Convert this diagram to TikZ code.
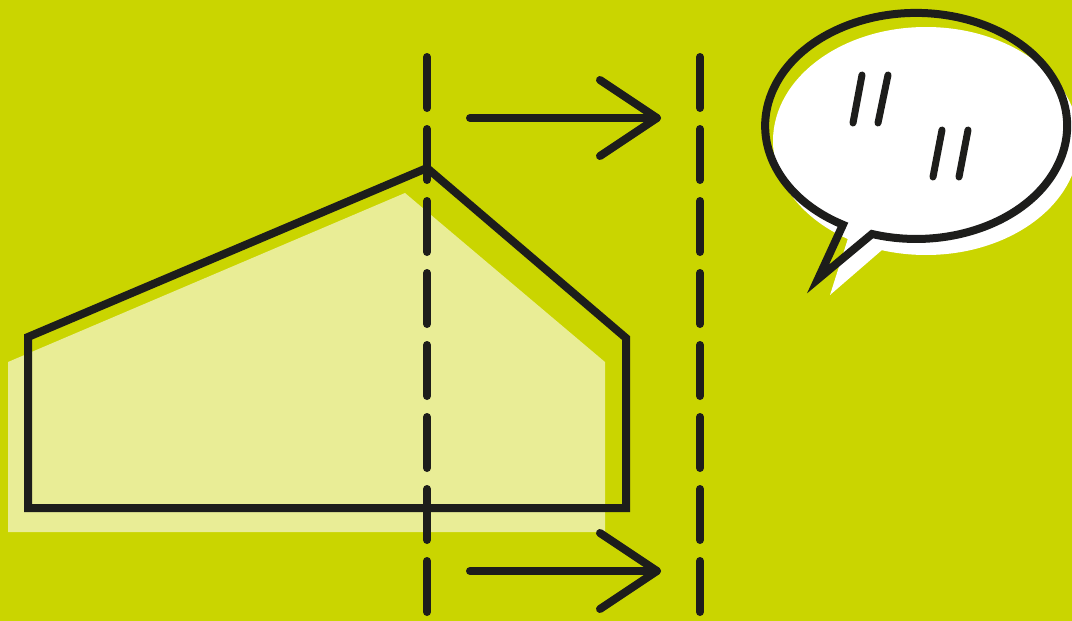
\documentclass[tikz,border=0pt]{standalone}
\usetikzlibrary{positioning,calc}
\definecolor{limeBg}{HTML}{CAD500}
\definecolor{paleLime}{HTML}{E9ED96}
\definecolor{inkBlack}{HTML}{1D1D1B}
\tikzset{
    inkline/.style={draw=inkBlack,line width=8pt,line cap=round,line join=round},
    outline/.style={draw=inkBlack,line width=8pt,line join=miter},
    cutline/.style={draw=inkBlack,line width=8pt,line cap=round,dash pattern=on 51pt off 21pt},
    quotemark/.style={draw=inkBlack,line width=7pt,line cap=round},
    shadow/.style={fill=white,draw=none}
}
\begin{document}
\begin{tikzpicture}[x=1pt,y=-1pt]
            % background
            \fill[limeBg] (0,0) rectangle (1072,621);
            \useasboundingbox (0,0) rectangle (1072,621);
            % house, pale fill and outline
            \fill[paleLime] (8,362) -- (405,193) -- (605,362) -- (605,532) -- (8,532) -- cycle;
            \draw[outline] (28,337) -- (427,168) -- (626,338) -- (626,508) -- (28,508) -- cycle;
            % cutting lines
            \coordinate (cutAtop) at (427,57);
            \coordinate (cutAbot) at (427,640);
            \coordinate (cutBtop) at (700,57);
            \coordinate (cutBbot) at (700,640);
            \draw[cutline] (cutAtop) -- (cutAbot);
            \draw[cutline] (cutBtop) -- (cutBbot);
            % arrows
            \coordinate (upTail) at (470,118);
            \coordinate (upTip) at (657,118);
            \coordinate (lowTail) at (470,571);
            \coordinate (lowTip) at (657,571);
            \draw[inkline] (upTail) -- (upTip);
            \draw[inkline] ($(upTip)+(-57,-38)$) -- (upTip) -- ($(upTip)+(-57,38)$);
            \draw[inkline] (lowTail) -- (lowTip);
            \draw[inkline] ($(lowTip)+(-57,-38)$) -- (lowTip) -- ($(lowTip)+(-57,38)$);
            % speech bubble
            \fill[shadow] (926,141) ellipse[x radius=153,y radius=114];
            \fill[shadow] (830,295) -- (882,250) -- (850,232) -- cycle;
            \draw[outline] (872,234) arc[start angle=107,end angle=-241,x radius=151,y radius=113] -- (818,279) -- cycle;
            \draw[quotemark] (862,75) -- (853,123);
            \draw[quotemark] (888,75) -- (878,123);
            \draw[quotemark] (942,130) -- (933,177);
            \draw[quotemark] (968,130) -- (959,177);
        \end{tikzpicture}
\end{document}
